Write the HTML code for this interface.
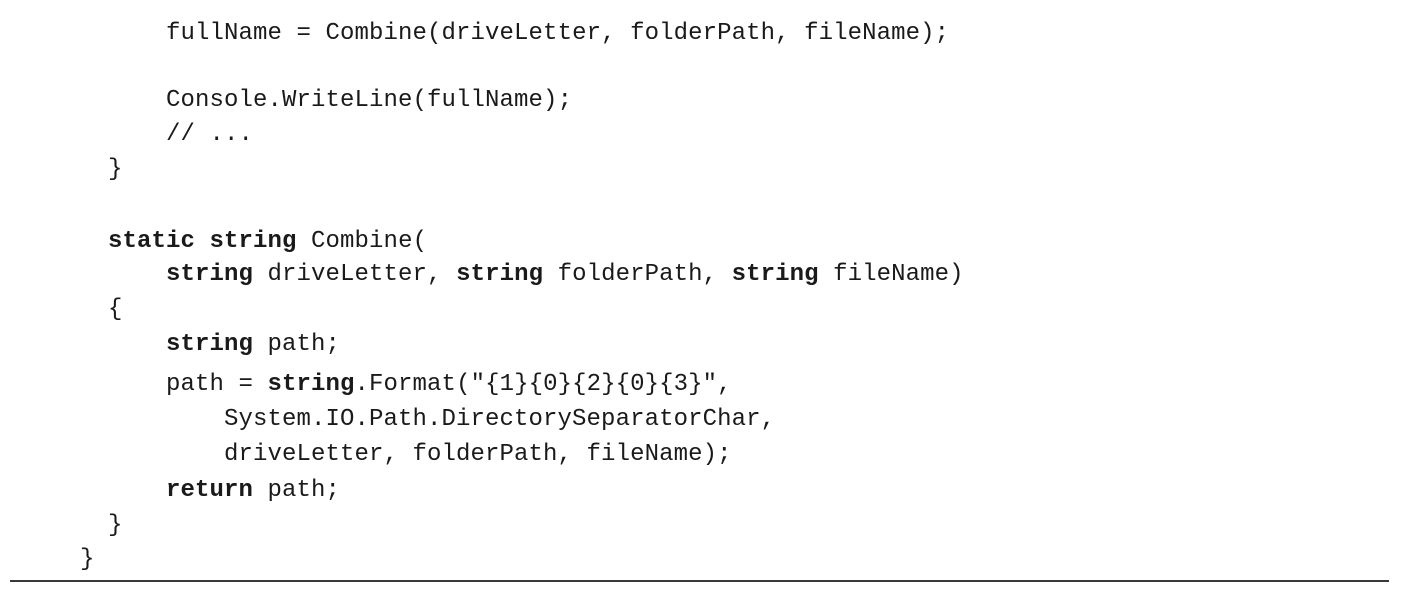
<!DOCTYPE html>
<html><head><meta charset="utf-8"><style>
html,body{margin:0;padding:0;background:#fff;width:1404px;height:591px;overflow:hidden;position:relative}
.l{position:absolute;font-family:"Liberation Mono",monospace;font-size:24px;line-height:34px;color:#1a1a1a;white-space:pre;letter-spacing:0.1px}
b{font-weight:bold}
.hr{position:absolute;left:10px;top:580px;width:1379px;height:2px;background:#3a3a3a}
</style></head><body>
<div class="l" style="left:166px;top:17px">fullName = Combine(driveLetter, folderPath, fileName);</div>
<div class="l" style="left:166px;top:84px">Console.WriteLine(fullName);</div>
<div class="l" style="left:166px;top:118px">// ...</div>
<div class="l" style="left:108px;top:153px">}</div>
<div class="l" style="left:108px;top:225px"><b>static</b> <b>string</b> Combine(</div>
<div class="l" style="left:166px;top:258px"><b>string</b> driveLetter, <b>string</b> folderPath, <b>string</b> fileName)</div>
<div class="l" style="left:108px;top:293px">{</div>
<div class="l" style="left:166px;top:328px"><b>string</b> path;</div>
<div class="l" style="left:166px;top:368px">path = <b>string</b>.Format("{1}{0}{2}{0}{3}",</div>
<div class="l" style="left:224px;top:403px">System.IO.Path.DirectorySeparatorChar,</div>
<div class="l" style="left:224px;top:438px">driveLetter, folderPath, fileName);</div>
<div class="l" style="left:166px;top:474px"><b>return</b> path;</div>
<div class="l" style="left:108px;top:509px">}</div>
<div class="l" style="left:80px;top:543px">}</div>
<div class="hr"></div>
</body></html>
